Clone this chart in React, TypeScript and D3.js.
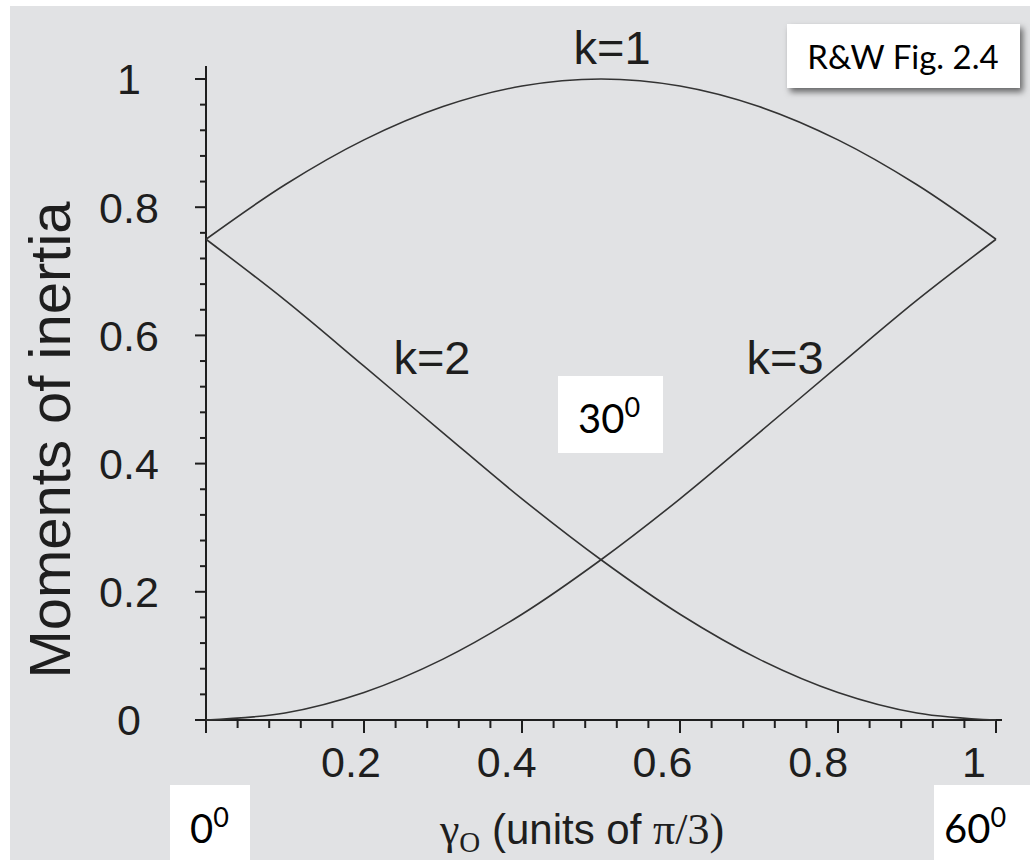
import React from "react";
import * as d3 from "d3";

// gamma in units of pi/3, every 0.1
const gammaValues = [0, 0.1, 0.2, 0.3, 0.4, 0.5, 0.6, 0.7, 0.8, 0.9, 1];
const k1Values = [0.75, 0.835, 0.905, 0.957, 0.989, 1, 0.989, 0.957, 0.905, 0.835, 0.75];
const k2Values = [0.75, 0.655, 0.552, 0.448, 0.345, 0.25, 0.165, 0.095, 0.043, 0.011, 0];
const k3Values = [0, 0.011, 0.043, 0.095, 0.165, 0.25, 0.345, 0.448, 0.552, 0.655, 0.75];

const xMajorTicks = [0, 0.2, 0.4, 0.6, 0.8, 1];
const xTickLabels = ["", "0.2", "0.4", "0.6", "0.8", "1"];
const yMajorTicks = [0, 0.2, 0.4, 0.6, 0.8, 1];
const yTickLabels = ["0", "0.2", "0.4", "0.6", "0.8", "1"];
const curveLabels = [
  { text: "k=1", x: 0.514, y: 1.023 },
  { text: "k=2", x: 0.286, y: 0.54 },
  { text: "k=3", x: 0.733, y: 0.54 },
];

const W = 1030, H = 860;
const sans = "'Liberation Sans', Arial, sans-serif";
const serif = "'Liberation Serif', 'Times New Roman', serif";
const boxFont = "Lato, 'Open Sans', sans-serif";
const ink = "#1e1e1e";

const App = () => {
  const ref = React.useRef<SVGSVGElement>(null);

  React.useEffect(() => {
    const svg = d3.select(ref.current);
    svg.selectAll("*").remove();
    const xScale = d3.scaleLinear([0, 1], [206, 996]);
    const yScale = d3.scaleLinear([0, 1], [720, 79]);
    // tick labels sit slightly left of their ticks in the original
    const xLabelScale = d3.scaleLinear([0.2, 1], [351, 974]);
    const minor = d3.range(0, 1.0001, 0.04).filter(v => Math.abs(v * 5 - Math.round(v * 5)) > 1e-6);

    const defs = svg.append("defs");
    defs.append("filter").attr("id", "shadow").attr("x", "-10%").attr("y", "-10%").attr("width", "130%").attr("height", "150%")
      .append("feDropShadow").attr("dx", 3).attr("dy", 4).attr("stdDeviation", 3)
      .attr("flood-color", "#000").attr("flood-opacity", 0.55);

    svg.append("rect").attr("x", 10).attr("y", 6).attr("width", W - 10).attr("height", H - 6).attr("fill", "#e1e2e4");

    // minor ticks
    const g = svg.append("g").attr("stroke", ink).attr("stroke-width", 2);
    g.selectAll(".ym").data(minor).join("line")
      .attr("x1", 200).attr("x2", 206).attr("y1", d => yScale(d)).attr("y2", d => yScale(d));
    g.selectAll(".xm").data(minor).join("line")
      .attr("y1", 720).attr("y2", 728).attr("x1", d => xScale(d)).attr("x2", d => xScale(d));
    // major ticks
    g.selectAll(".yM").data(yMajorTicks).join("line")
      .attr("x1", 195).attr("x2", 206).attr("y1", d => yScale(d)).attr("y2", d => yScale(d));
    g.selectAll(".xM").data(xMajorTicks).join("line")
      .attr("y1", 720).attr("y2", 733).attr("x1", d => xScale(d)).attr("x2", d => xScale(d));
    // axis lines
    g.append("line").attr("x1", 206).attr("x2", 206).attr("y1", 66).attr("y2", 721);
    g.append("line").attr("x1", 195).attr("x2", 1002).attr("y1", 720).attr("y2", 720);

    svg.append("g").selectAll("text").data(yMajorTicks).join("text")
      .attr("x", 129).attr("y", d => yScale(d)).attr("dy", "0.36em")
      .attr("text-anchor", "middle").attr("font-family", sans).attr("font-size", 43).attr("fill", ink)
      .text((d, i) => yTickLabels[i]);
    svg.append("g").selectAll("text").data(xMajorTicks.slice(1)).join("text")
      .attr("x", d => xLabelScale(d)).attr("y", 777)
      .attr("text-anchor", "middle").attr("font-family", sans).attr("font-size", 43).attr("fill", ink)
      .text((d, i) => xTickLabels[i + 1]);

    const line = d3.line<number>()
      .x((d, i) => xScale(gammaValues[i]))
      .y(d => yScale(d))
      .curve(d3.curveCatmullRom.alpha(0.5));
    [k1Values, k2Values, k3Values].forEach(vals => {
      svg.append("path").datum(vals).attr("fill", "none")
        .attr("stroke", "#333").attr("stroke-width", 1.6).attr("d", line);
    });

    svg.append("g").selectAll("text").data(curveLabels).join("text")
      .attr("x", d => xScale(d.x)).attr("y", d => yScale(d.y))
      .attr("text-anchor", "middle").attr("font-family", sans).attr("font-size", 47).attr("fill", ink)
      .text(d => d.text);

    svg.append("text")
      .attr("transform", "translate(70,440) rotate(-90)")
      .attr("text-anchor", "middle").attr("font-family", sans).attr("font-size", 58).attr("fill", ink)
      .text("Moments of inertia");

    const xl = svg.append("text").attr("x", 582).attr("y", 844).attr("text-anchor", "middle").attr("fill", ink);
    xl.append("tspan").attr("font-family", serif).attr("font-size", 44).text("γ");
    xl.append("tspan").attr("font-family", serif).attr("font-size", 29).attr("dy", 8).text("O");
    xl.append("tspan").attr("font-family", sans).attr("font-size", 42).attr("dy", -8).text(" (units of ");
    xl.append("tspan").attr("font-family", serif).attr("font-size", 44).text("π/3)");

    // annotation boxes
    svg.append("rect").attr("x", 787).attr("y", 24).attr("width", 233).attr("height", 64)
      .attr("fill", "#fff").attr("filter", "url(#shadow)");
    svg.append("text").attr("x", 903).attr("y", 69).attr("text-anchor", "middle")
      .attr("font-family", boxFont).attr("font-size", 33).attr("fill", "#000").text("R&W Fig. 2.4");

    const degBoxes = [
      { x: 558, y: 376, w: 105, h: 77, main: "30", tx: 578, ty: 433 },
      { x: 170, y: 785, w: 80, h: 75, main: "0", tx: 190, ty: 843 },
      { x: 934, y: 785, w: 96, h: 75, main: "60", tx: 944, ty: 843 },
    ];
    degBoxes.forEach(b => {
      svg.append("rect").attr("x", b.x).attr("y", b.y).attr("width", b.w).attr("height", b.h).attr("fill", "#fff");
      const t = svg.append("text").attr("x", b.tx).attr("y", b.ty).attr("font-family", boxFont).attr("fill", "#000");
      t.append("tspan").attr("font-size", 40).text(b.main);
      t.append("tspan").attr("font-size", 27).attr("dy", -16).text("0");
    });
  }, []);

  return <svg ref={ref} width={W} height={H} style={{ position: "absolute", left: 0, top: 0, background: "#fff" }} />;
};

export default App;
